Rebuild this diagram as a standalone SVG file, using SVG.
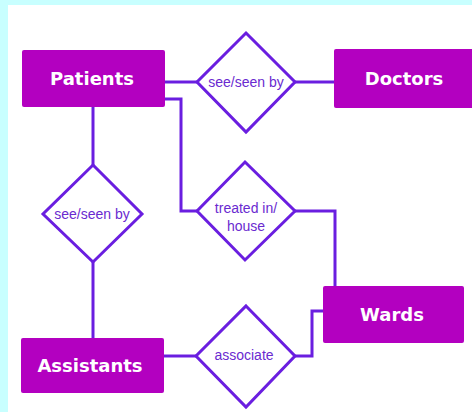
<svg xmlns="http://www.w3.org/2000/svg" width="472" height="412" viewBox="0 0 472 412">
<style>
.ent{fill:#b300c0;}
.et{fill:#ffffff;font-family:"DejaVu Sans",sans-serif;font-weight:bold;font-size:18px;text-anchor:middle;}
.rel{fill:#ffffff;stroke:#6a1ee0;stroke-width:3;}
.rt{fill:#6a2ad0;font-family:"Liberation Sans",Arial,sans-serif;font-size:14px;text-anchor:middle;}
.con{fill:none;stroke:#6a1ee0;stroke-width:3;}
</style>
<rect x="0" y="0" width="472" height="412" fill="#c8ffff"/>
<rect x="8" y="5" width="464" height="407" fill="#ffffff"/>
<g id="connectors">
<path class="con" d="M165 82 H197"/>
<path class="con" d="M295 82 H334"/>
<path class="con" d="M165 99 H181 V211 H197"/>
<path class="con" d="M295 211 H335 V287"/>
<path class="con" d="M93 107 V165"/>
<path class="con" d="M93 262 V338"/>
<path class="con" d="M164 356 H196"/>
<path class="con" d="M295 356 H312 V311 H323"/>
</g>
<g id="patients"><rect class="ent" x="22" y="50" width="143" height="57" rx="2"/><text class="et" x="92" y="85">Patients</text></g>
<g id="doctors"><rect class="ent" x="334" y="49" width="140" height="59" rx="2"/><text class="et" x="404" y="85">Doctors</text></g>
<g id="wards"><rect class="ent" x="323" y="286" width="141" height="57" rx="2"/><text class="et" x="392" y="321">Wards</text></g>
<g id="assistants"><rect class="ent" x="21" y="338" width="143" height="55" rx="2"/><text class="et" x="90" y="372">Assistants</text></g>
<g id="see-seen-by-1"><polygon class="rel" points="246,33 295,82 246,132 197,82"/><text class="rt" x="246" y="87">see/seen by</text></g>
<g id="treated-in"><polygon class="rel" points="245,162 295,211 245,260 197,211"/><text class="rt" x="246" y="213">treated in/</text><text class="rt" x="246" y="231">house</text></g>
<g id="see-seen-by-2"><polygon class="rel" points="93,165 142,214 93,262 43,214"/><text class="rt" x="92" y="219">see/seen by</text></g>
<g id="associate"><polygon class="rel" points="246,306 295,356 246,407 196,356"/><text class="rt" x="244" y="360">associate</text></g>
</svg>
